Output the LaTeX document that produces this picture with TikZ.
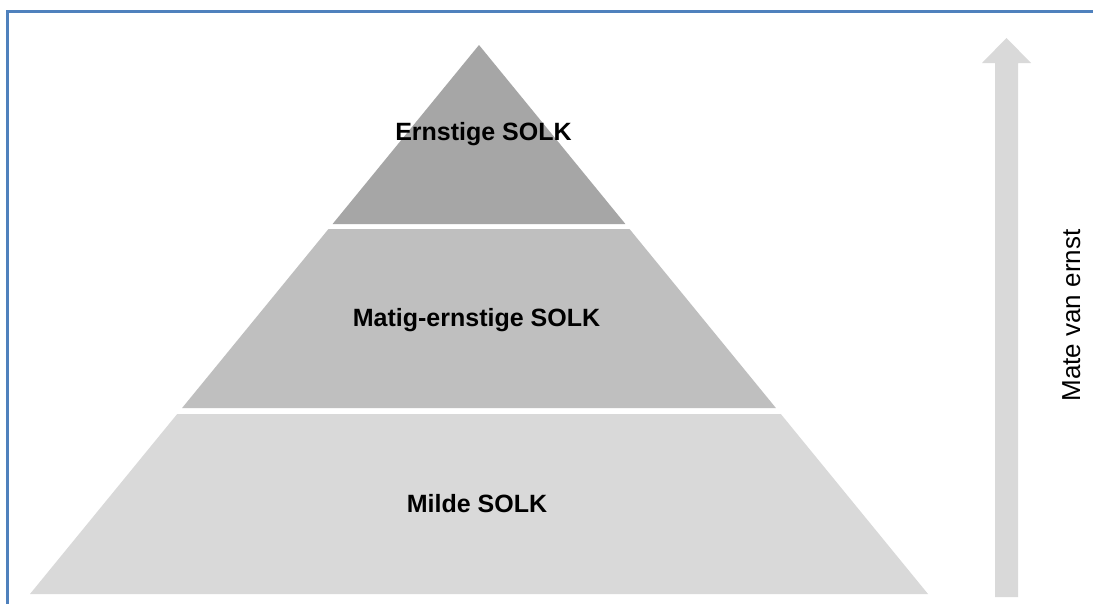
\documentclass[tikz,border=0pt]{standalone}
\usepackage{fontspec}
\setmainfont{Liberation Sans}
\definecolor{frameblue}{HTML}{4F81BD}
\definecolor{tierA}{HTML}{A6A6A6}
\definecolor{tierB}{HTML}{BFBFBF}
\definecolor{tierC}{HTML}{D9D9D9}
\begin{document}
\begin{tikzpicture}[x=1pt,y=-1pt,
  lbl/.style={font=\fontsize{25}{30}\selectfont\bfseries, text=black, inner sep=0pt, anchor=base},
  sidelbl/.style={font=\fontsize{26}{31}\selectfont, text=black, inner sep=0pt, anchor=base, rotate=90},
  framestyle/.style={draw=frameblue, line width=3pt}]
\useasboundingbox (0,0) rectangle (1093,603);
\fill[white] (0,0) rectangle (1093,603);
\draw[framestyle] (7,604) -- (7,11) -- (1094,11);
% pyramid tiers
\fill[tierA] (479,45) -- (625.4,224) -- (332.6,224) -- cycle;
\fill[tierB] (328.5,229) -- (629.5,229) -- (775.9,408) -- (182.1,408) -- cycle;
\fill[tierC] (177.2,414) -- (780.8,414) -- (928,594) -- (30,594) -- cycle;
% arrow
\fill[tierC] (995,597) -- (995,63) -- (982,63) -- (1006.5,38) -- (1031,63) -- (1018,63) -- (1018,597) -- cycle;
% labels
\node[lbl] (ernstig) at (483.5,140.7) {Ernstige SOLK};
\node[lbl] (matig) at (476.5,326.7) {Matig-ernstige SOLK};
\node[lbl] (milde) at (477,512.7) {Milde SOLK};
\node[sidelbl] (mate) at (1080,315.5) {Mate van ernst};
\end{tikzpicture}
\end{document}
